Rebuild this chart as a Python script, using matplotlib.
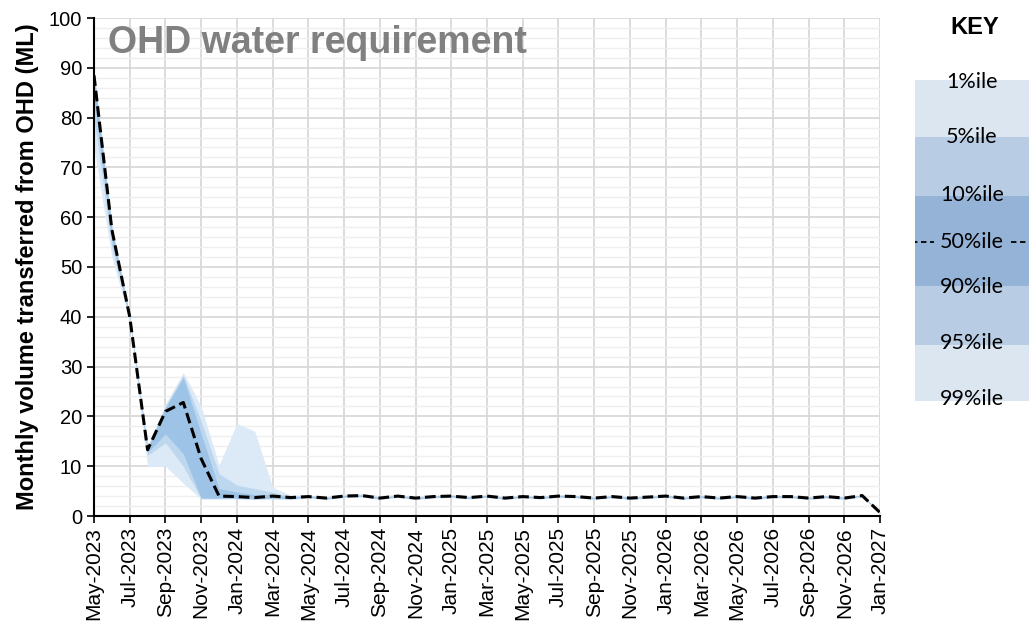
import numpy as np
import pandas as pd
import matplotlib
matplotlib.use("Agg")
import matplotlib.pyplot as plt
from matplotlib.patches import Rectangle

plt.rcParams['font.family'] = ['Liberation Sans', 'DejaVu Sans']

# months May-2023 .. Jan-2027
months = pd.date_range('2023-05-01', periods=45, freq='MS')
month_labels = [m.strftime('%b-%Y') for m in months]

# percentiles of monthly volume transferred (ML)
p50 = [88.5, 57.5, 40.0, 13.3, 21.0, 22.8, 11.5, 4.0, 3.9, 3.7, 4.0, 3.7,
       3.9, 3.6, 4.0, 4.1, 3.6, 4.0, 3.6, 3.9, 4.0, 3.7, 4.0, 3.6, 3.9, 3.7,
       4.0, 3.9, 3.6, 3.9, 3.6, 3.8, 4.0, 3.6, 3.9, 3.6, 3.9, 3.6, 3.9, 3.9,
       3.6, 3.9, 3.6, 4.1, 0.7]
p1 = [89.5, 58.5, 40.5, 14.0, 22.5, 28.8, 22.0, 10.2, 18.6, 17.0, 5.8, 4.2,
      4.2, 3.9, 4.4, 4.5, 4.1, 4.3, 3.9, 4.2, 4.3, 4.0, 4.3, 3.9, 4.2, 4.0,
      4.3, 4.2, 3.9, 4.2, 3.9, 4.1, 4.3, 3.9, 4.2, 3.9, 4.2, 3.9, 4.2, 4.2,
      3.9, 4.2, 3.9, 4.3, 0.8]
p5 = [89.0, 58.0, 40.2, 13.8, 22.0, 28.3, 19.0, 8.5, 6.2, 5.5, 4.8, 4.0,
      4.1, 3.8, 4.2, 4.3, 3.8, 4.2, 3.8, 4.1, 4.2, 3.9, 4.2, 3.8, 4.1, 3.9,
      4.2, 4.1, 3.8, 4.1, 3.8, 4.0, 4.2, 3.8, 4.1, 3.8, 4.1, 3.8, 4.1, 4.1,
      3.8, 4.1, 3.8, 4.2, 0.75]
p10 = [88.8, 57.8, 40.1, 13.6, 21.8, 27.8, 16.5, 5.5, 4.8, 4.3, 4.3, 3.8,
       4.0, 3.7, 4.1, 4.2, 3.7, 4.1, 3.7, 4.0, 4.1, 3.8, 4.1, 3.7, 4.0, 3.8,
       4.1, 4.0, 3.7, 4.0, 3.7, 3.9, 4.1, 3.7, 4.0, 3.7, 4.0, 3.7, 4.0, 4.0,
       3.7, 4.0, 3.7, 4.2, 0.7]
p90 = [84.0, 55.5, 39.8, 12.8, 16.5, 12.5, 3.6, 3.6, 3.6, 3.5, 3.6, 3.5,
       3.8, 3.5, 3.9, 4.0, 3.5, 3.9, 3.5, 3.8, 3.9, 3.6, 3.9, 3.5, 3.8, 3.6,
       3.9, 3.8, 3.5, 3.8, 3.5, 3.7, 3.9, 3.5, 3.8, 3.5, 3.8, 3.5, 3.8, 3.8,
       3.5, 3.8, 3.5, 4.0, 0.6]
p95 = [80.0, 54.0, 39.5, 12.2, 14.7, 10.0, 3.5, 3.5, 3.5, 3.4, 3.5, 3.4,
       3.7, 3.4, 3.8, 3.9, 3.4, 3.8, 3.4, 3.7, 3.8, 3.5, 3.8, 3.4, 3.7, 3.5,
       3.8, 3.7, 3.4, 3.7, 3.4, 3.6, 3.8, 3.4, 3.7, 3.4, 3.7, 3.4, 3.7, 3.7,
       3.4, 3.7, 3.4, 3.9, 0.55]
p99 = [74.0, 52.0, 39.2, 9.9, 10.0, 6.6, 3.4, 3.4, 3.4, 3.3, 3.4, 3.3,
       3.6, 3.3, 3.7, 3.8, 3.3, 3.7, 3.3, 3.6, 3.7, 3.4, 3.7, 3.3, 3.6, 3.4,
       3.7, 3.6, 3.3, 3.6, 3.3, 3.5, 3.7, 3.3, 3.6, 3.3, 3.6, 3.3, 3.6, 3.6,
       3.3, 3.6, 3.3, 3.8, 0.5]

key_labels = ['1%ile', '5%ile', '10%ile', '50%ile', '90%ile', '95%ile', '99%ile']

light, mid, dark = '#dce9f6', '#bdd7ee', '#9dc3e6'
key_light, key_mid, key_dark = '#dce6f1', '#b8cce4', '#95b3d7'

x = np.arange(len(months))

fig = plt.figure(figsize=(10.29, 6.27), dpi=100)
ax = fig.add_axes([94 / 1029, 111 / 627, 786 / 1029, 498 / 627])

# bands
ax.fill_between(x, p99, p1, color=light, lw=0, zorder=2)
ax.fill_between(x, p95, p5, color=mid, lw=0, zorder=3)
ax.fill_between(x, p90, p10, color=dark, lw=0, zorder=4)
ax.plot(x, p50, color='black', lw=2.2, ls=(0, (3.5, 1.6)), zorder=5)

ax.set_xlim(0, len(months) - 1)
ax.set_ylim(0, 100)
ax.set_xticks(x[::2])
ax.set_xticklabels(month_labels[::2], rotation=90, fontsize=15)
ax.set_yticks(np.arange(0, 101, 10))
ax.set_yticks(np.arange(0, 101, 2), minor=True)
ax.tick_params(axis='y', which='major', labelsize=14.5, length=5, width=1.2, direction='out')
ax.tick_params(axis='x', which='major', length=5, width=1.2, direction='out', pad=3)
ax.tick_params(which='minor', length=0)

ax.grid(which='major', color='#d9d9d9', lw=1.3, zorder=0)
ax.grid(which='minor', axis='y', color='#efefef', lw=1.0, zorder=0)
ax.set_axisbelow(True)
for s in ['top', 'right']:
    ax.spines[s].set_visible(False)
for s in ['left', 'bottom']:
    ax.spines[s].set_linewidth(1.5)
    ax.spines[s].set_zorder(6)

ax.set_ylabel('Monthly volume transferred from OHD (ML)', fontsize=17,
              fontweight='bold', labelpad=7)
ax.text(0.018, 0.985, 'OHD water requirement', transform=ax.transAxes,
        fontsize=27, fontweight='bold', color='#808080', va='top', ha='left')

# key panel (pixel coordinates)
kax = fig.add_axes([915 / 1029, 0, 114 / 1029, 1])
kax.set_xlim(915, 1029)
kax.set_ylim(627, 0)
kax.axis('off')
key_blocks = [(80, 137, key_light), (137, 196, key_mid), (196, 286, key_dark),
              (286, 345, key_mid), (345, 401, key_light)]
for y0, y1, c in key_blocks:
    kax.add_patch(Rectangle((915, y0), 114, y1 - y0, color=c, lw=0))
kax.text(975, 27, 'KEY', fontsize=17, fontweight='bold', ha='center', va='center')
key_y = [82, 137, 195, 242, 287, 343, 399]
for lab, yy in zip(key_labels, key_y):
    kax.text(972, yy, lab, fontsize=15.5, ha='center', va='center',
             family=['Lato', 'DejaVu Sans'])
kax.plot([912, 934], [242, 242], color='black', lw=1.3, ls=(0, (3, 2)))
kax.plot([1011, 1029], [242, 242], color='black', lw=1.3, ls=(0, (3, 2)))

fig.savefig('out.png', dpi=100)
